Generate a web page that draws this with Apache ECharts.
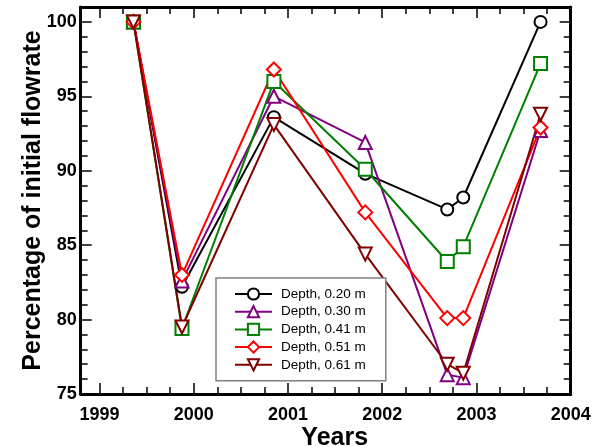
<!DOCTYPE html>
<html>
<head>
<meta charset="utf-8">
<script src="https://cdn.jsdelivr.net/npm/echarts@6/dist/echarts.min.js"></script>
<style>html,body{margin:0;padding:0;background:#fff;}#c{width:600px;height:447px;}</style>
</head>
<body>
<div id="c"></div>
<script>
// Data
var years = [1999.36, 1999.875, 2000.85, 2001.82, 2002.69, 2002.86, 2003.68];
var depth020 = [100, 82.2, 93.6, 89.8, 87.4, 88.2, 100.0];
var depth030 = [100, 82.6, 95.0, 91.9, 76.3, 76.1, 92.7];
var depth041 = [100, 79.4, 96.0, 90.1, 83.9, 84.9, 97.2];
var depth051 = [100, 83.0, 96.8, 87.2, 80.1, 80.1, 92.9];
var depth061 = [100, 79.5, 93.1, 84.4, 77.0, 76.4, 93.8];
var seriesNames = ['Depth, 0.20 m', 'Depth, 0.30 m', 'Depth, 0.41 m', 'Depth, 0.51 m', 'Depth, 0.61 m'];
var xLabelValues = [1999, 2000, 2001, 2002, 2003, 2004];
var xMinorValues = [1999.25, 1999.5, 1999.75, 2000.25, 2000.5, 2000.75, 2001.25, 2001.5, 2001.75,
                    2002.25, 2002.5, 2002.75, 2003.25, 2003.5, 2003.75];
var yLabelValues = [75, 80, 85, 90, 95, 100];
var yMinorValues = [76, 77, 78, 79, 81, 82, 83, 84, 86, 87, 88, 89, 91, 92, 93, 94, 96, 97, 98, 99];

var FONT = 'Liberation Sans, Arial, sans-serif';
var colors = ['#000000', '#800080', '#008000', '#ff0000', '#800000'];
var symbols = ['circle', 'triangle', 'rect', 'diamond', 'triangle'];
var sizes = [12, 13, 13, 14, 13];
var rotates = [0, 0, 0, 0, 180];
var allData = [depth020, depth030, depth041, depth051, depth061];

function pairs(arr) { return years.map(function (y, i) { return [y, arr[i]]; }); }

var XMIN = 1998.8, XMAX = 2004, YMIN = 75, YMAX = 101;

function xAx(pos, major, showLabel, showName) {
  return {
    type: 'value', position: pos, min: XMIN, max: XMAX,
    name: showName ? 'Years' : '', nameLocation: 'middle', nameGap: 32, nameMoveOverlap: false,
    nameTextStyle: { fontFamily: FONT, fontWeight: 'bold', fontSize: 25, color: '#000', padding: [0, 0, 0, 18] },
    axisLine: { show: major, onZero: false, lineStyle: { color: '#000', width: 3 } },
    axisTick: { show: true, inside: true, length: major ? 11 : 7, customValues: major ? xLabelValues : xMinorValues,
                lineStyle: { color: '#000', width: 1.5 } },
    axisLabel: { show: showLabel, customValues: xLabelValues, margin: 12, color: '#000',
                 fontFamily: FONT, fontWeight: 'bold', fontSize: 18, formatter: function (v) { return String(v); } },
    splitLine: { show: false }
  };
}
function yAx(pos, major, showLabel, showName) {
  return {
    type: 'value', position: pos, min: YMIN, max: YMAX,
    name: showName ? 'Percentage of initial flowrate' : '', nameLocation: 'middle', nameGap: 35, nameMoveOverlap: false,
    nameTextStyle: { fontFamily: FONT, fontWeight: 'bold', fontSize: 25, color: '#000' },
    axisLine: { show: major, onZero: false, lineStyle: { color: '#000', width: 3 } },
    axisTick: { show: true, inside: true, length: major ? 11 : 7, customValues: major ? yLabelValues : yMinorValues,
                lineStyle: { color: '#000', width: 1.5 } },
    axisLabel: { show: showLabel, customValues: yLabelValues, margin: 4, color: '#000',
                 fontFamily: FONT, fontWeight: 'bold', fontSize: 18 },
    splitLine: { show: false }
  };
}

var series = seriesNames.map(function (n, i) {
  return {
    name: n, type: 'line', xAxisIndex: 0, yAxisIndex: 0,
    data: pairs(allData[i]),
    symbol: symbols[i], symbolSize: sizes[i], symbolRotate: rotates[i], showAllSymbol: true,
    lineStyle: { color: colors[i], width: 2 },
    itemStyle: { color: '#fff', borderColor: colors[i], borderWidth: 2 },
    emphasis: { disabled: true }, animation: false
  };
});

var option = {
  animation: false,
  backgroundColor: '#fff',
  grid: { left: 80.7, right: 29.3, top: 7, bottom: 53, containLabel: false, outerBoundsMode: 'none' },
  xAxis: [xAx('bottom', true, true, true), xAx('bottom', false, false, false),
          xAx('top', true, false, false), xAx('top', false, false, false)],
  yAxis: [yAx('left', true, true, true), yAx('left', false, false, false),
          yAx('right', true, false, false), yAx('right', false, false, false)],
  legend: {
    show: true, orient: 'vertical', left: 216, top: 278,
    data: seriesNames,
    itemWidth: 37, itemHeight: 14, itemGap: 3.7,
    padding: [9, 20, 9, 18],
    backgroundColor: '#fff', borderColor: '#808080', borderWidth: 1.5,
    textStyle: { fontFamily: FONT, fontSize: 13.5, color: '#000', lineHeight: 14, padding: [0, 0, 0, 4] },
    selectedMode: false
  },
  series: series
};

var chart = echarts.init(document.getElementById('c'), null, { renderer: 'canvas' });
chart.setOption(option);
</script>
</body>
</html>
